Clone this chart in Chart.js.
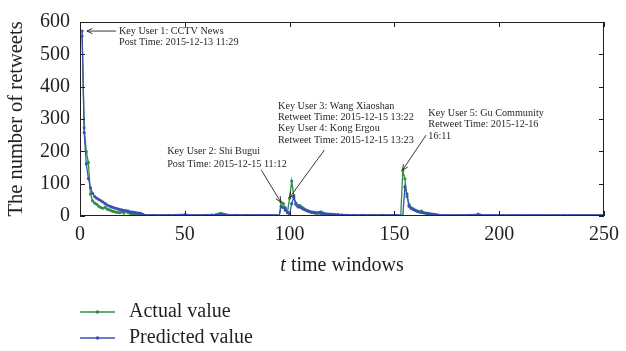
<!DOCTYPE html>
<html>
<head>
<meta charset="utf-8">
<script src="https://cdn.jsdelivr.net/npm/chart.js@4/dist/chart.umd.min.js"></script>
<style>
  html, body { margin: 0; padding: 0; background: #ffffff; }
  #wrap { width: 626px; height: 351px; position: relative; }
</style>
</head>
<body>
<div id="wrap"><canvas id="c" width="626" height="351"></canvas></div>
<script>
// ---------- DATA ----------
const timeWindows = Array.from({ length: 250 }, (_, i) => i + 1);

const actualValue = [
  557,273,199,166,68,47,40,36,30,26,
  24,27,21,19,16,14,12,11,10,13,
  9,16,10,8,7,5,4,3,1,0,
  1,0,1,0,2,1,0,1,0,1,
  0,2,1,0,1,2,1,3,2,4,
  2,1,0,1,0,1,0,1,2,1,
  2,1,3,2,4,6,8,7,4,2,
  1,0,1,2,1,0,1,0,2,1,
  0,1,0,1,0,1,2,0,1,0,
  1,0,1,0,0,42,38,25,12,55,
  108,62,35,28,32,27,22,18,15,12,
  10,9,8,11,13,9,6,5,4,3,
  2,3,1,2,3,1,2,1,0,1,
  2,1,0,1,2,1,0,1,1,2,
  1,0,1,2,1,0,1,0,1,2,
  1,0,0,140,115,60,35,25,22,18,
  14,12,15,10,8,7,6,5,3,2,
  1,0,1,0,1,0,1,0,0,1,
  0,1,0,1,2,1,0,2,3,6,
  3,1,0,1,0,1,0,1,0,1,
  0,1,0,0,1,0,1,0,1,0,
  1,0,0,1,0,1,0,0,1,0,
  1,0,1,0,0,1,0,1,0,0,
  1,0,0,1,0,1,0,1,0,0,
  1,0,1,0,0,1,0,1,0,0
];

const predictedValue = [
  572,258,161,116,87,70,60,55,51,47,
  43,38,34,31,28,26,24,22,20,19,
  17,16,15,13,12,11,10,9,8,5,
  2,1,1,1,1,1,1,1,1,1,
  1,1,1,1,1,1,2,2,2,2,
  2,1,1,1,1,1,1,1,1,1,
  1,2,2,2,3,4,5,5,4,3,
  2,1,1,1,1,1,1,1,1,1,
  1,1,1,1,1,1,1,1,1,1,
  1,1,1,1,0,30,26,18,10,6,
  38,57,40,32,27,23,20,17,15,13,
  12,11,10,9,8,8,7,6,6,5,
  5,4,4,3,3,2,2,2,1,1,
  1,1,1,1,1,1,1,1,1,1,
  1,1,1,1,1,1,1,1,1,1,
  1,1,0,0,90,68,30,24,20,17,
  15,13,11,10,9,8,7,6,5,4,
  3,1,1,1,1,1,1,1,1,1,
  1,1,1,1,1,1,2,2,2,2,
  2,1,1,1,1,1,1,1,1,1,
  1,1,1,1,1,1,1,1,1,1,
  1,1,1,1,1,1,1,1,1,1,
  1,1,1,1,1,1,1,1,1,1,
  1,1,1,1,1,1,1,1,1,1,
  1,1,1,1,1,1,1,1,1,1
];

const xTicks = [0, 50, 100, 150, 200, 250];
const yTicks = [0, 100, 200, 300, 400, 500, 600];
const seriesNames = ['Actual value', 'Predicted value'];
const xTitleItalic = 't';
const xTitleRest = ' time windows';
const yTitle = 'The number of retweets';

// annotation texts (anchored in data units)
const keyUserNotes = [
  { lines: ['Key User 1: CCTV News', 'Post Time: 2015-12-13 11:29'],
    at: [18.6, 572], gap: 10.8, from: [17.2, 572], to: [3.3, 572] },
  { lines: ['Key User 2: Shi Bugui', 'Post Time: 2015-12-15 11:12'],
    at: [41.6, 199], gap: 12.6, from: [86.5, 142], to: [95.8, 43] },
  { lines: ['Key User 3: Wang Xiaoshan', 'Retweet Time: 2015-12-15 13:22',
            'Key User 4: Kong Ergou', 'Retweet Time: 2015-12-15 13:23'],
    at: [94.5, 339], gap: 11.2, from: [116.6, 204], to: [100.0, 57] },
  { lines: ['Key User 5: Gu Community', 'Retweet Time: 2015-12-16', '16:11'],
    at: [166.2, 317], gap: 11.2, from: [165.1, 250], to: [153.9, 142] }
];

// ---------- STYLE ----------
const GREEN = '#2f8f45';
const BLUE = '#3a50b3';
const INK = '#231f20';
const SERIF = '"Liberation Serif", "DejaVu Serif", serif';

const decorPlugin = {
  id: 'decor',
  afterDraw(chart) {
    const ctx = chart.ctx;
    const a = chart.chartArea;
    const xs = chart.scales.x, ys = chart.scales.y;
    ctx.save();
    // frame
    ctx.strokeStyle = INK;
    ctx.lineWidth = 1;
    ctx.strokeRect(a.left + 0.5, a.top + 0.5, a.right - a.left - 1, a.bottom - a.top - 1);
    // inward ticks
    const tl = 5;
    ctx.beginPath();
    xTicks.forEach(v => {
      const px = Math.round(xs.getPixelForValue(v)) + 0.5;
      ctx.moveTo(px, a.bottom); ctx.lineTo(px, a.bottom - tl);
      ctx.moveTo(px, a.top); ctx.lineTo(px, a.top + tl);
    });
    yTicks.forEach(v => {
      const py = Math.round(ys.getPixelForValue(v)) + 0.5;
      ctx.moveTo(a.left, py); ctx.lineTo(a.left + tl, py);
      ctx.moveTo(a.right, py); ctx.lineTo(a.right - tl, py);
    });
    ctx.stroke();

    // annotations
    ctx.fillStyle = INK;
    ctx.font = '10.2px ' + SERIF;
    ctx.textBaseline = 'middle';
    ctx.textAlign = 'left';
    keyUserNotes.forEach(n => {
      const x0 = xs.getPixelForValue(n.at[0]);
      const y0 = ys.getPixelForValue(n.at[1]);
      n.lines.forEach((t, i) => ctx.fillText(t, x0, y0 + i * n.gap));
      const fx = xs.getPixelForValue(n.from[0]), fy = ys.getPixelForValue(n.from[1]);
      const tx = xs.getPixelForValue(n.to[0]), ty = ys.getPixelForValue(n.to[1]);
      ctx.beginPath();
      ctx.strokeStyle = INK;
      ctx.lineWidth = 0.9;
      ctx.moveTo(fx, fy); ctx.lineTo(tx, ty);
      const ang = Math.atan2(ty - fy, tx - fx);
      const h = 6, w = 0.45;
      ctx.moveTo(tx - h * Math.cos(ang - w), ty - h * Math.sin(ang - w));
      ctx.lineTo(tx, ty);
      ctx.lineTo(tx - h * Math.cos(ang + w), ty - h * Math.sin(ang + w));
      ctx.stroke();
    });

    // x title with italic t
    ctx.font = 'italic 20px ' + SERIF;
    const wI = ctx.measureText(xTitleItalic).width;
    ctx.font = '20px ' + SERIF;
    const wR = ctx.measureText(xTitleRest).width;
    const cx = (a.left + a.right) / 2;
    const startX = cx - (wI + wR) / 2;
    const tyTitle = 266;
    ctx.font = 'italic 20px ' + SERIF;
    ctx.fillText(xTitleItalic, startX, tyTitle);
    ctx.font = '20px ' + SERIF;
    ctx.fillText(xTitleRest, startX + wI, tyTitle);

    // y title
    ctx.save();
    ctx.translate(17, (a.top + a.bottom) / 2);
    ctx.rotate(-Math.PI / 2);
    ctx.textAlign = 'center';
    ctx.font = '20.5px ' + SERIF;
    ctx.fillText(yTitle, 0, 0);
    ctx.restore();

    // legend
    const legendY = [312, 338];
    chart.data.datasets.forEach((ds, i) => {
      const y = legendY[i];
      ctx.strokeStyle = ds.borderColor;
      ctx.lineWidth = 1.3;
      ctx.beginPath();
      ctx.moveTo(80, y); ctx.lineTo(115, y);
      ctx.stroke();
      ctx.fillStyle = ds.borderColor;
      ctx.beginPath();
      ctx.arc(97.5, y, 1.8, 0, Math.PI * 2);
      ctx.fill();
      ctx.fillStyle = INK;
      ctx.font = '20px ' + SERIF;
      ctx.textAlign = 'left';
      ctx.fillText(ds.label, 129, y);
    });
    ctx.restore();
  }
};

const ctx = document.getElementById('c').getContext('2d');
new Chart(ctx, {
  type: 'line',
  data: {
    datasets: [
      {
        label: seriesNames[0],
        data: timeWindows.map((t, i) => ({ x: t, y: actualValue[i] })),
        borderColor: GREEN,
        backgroundColor: GREEN,
        pointBackgroundColor: GREEN,
        borderWidth: 1.3,
        pointRadius: 1.6,
        pointBorderWidth: 0,
        tension: 0,
        order: 1
      },
      {
        label: seriesNames[1],
        data: timeWindows.map((t, i) => ({ x: t, y: predictedValue[i] })),
        borderColor: BLUE,
        backgroundColor: BLUE,
        pointBackgroundColor: BLUE,
        borderWidth: 1.3,
        pointRadius: 1.6,
        pointBorderWidth: 0,
        tension: 0,
        order: 0
      }
    ]
  },
  options: {
    responsive: false,
    animation: false,
    layout: { padding: { top: 14, right: 18, left: 0, bottom: 0 } },
    plugins: { legend: { display: false }, tooltip: { enabled: false } },
    scales: {
      x: {
        type: 'linear', min: 0, max: 250,
        afterFit: s => { s.height = 135; },
        afterBuildTicks: s => { s.ticks = xTicks.map(v => ({ value: v })); },
        grid: { display: false, drawTicks: false },
        border: { display: false },
        ticks: { color: INK, font: { family: SERIF, size: 20 }, padding: 7, maxRotation: 0 }
      },
      y: {
        type: 'linear', min: 0, max: 600,
        afterFit: s => { s.width = 80; },
        afterBuildTicks: s => { s.ticks = yTicks.map(v => ({ value: v })); },
        grid: { display: false, drawTicks: false },
        border: { display: false },
        ticks: { color: INK, font: { family: SERIF, size: 20 }, padding: 10 }
      }
    }
  },
  plugins: [decorPlugin]
});
</script>
</body>
</html>
